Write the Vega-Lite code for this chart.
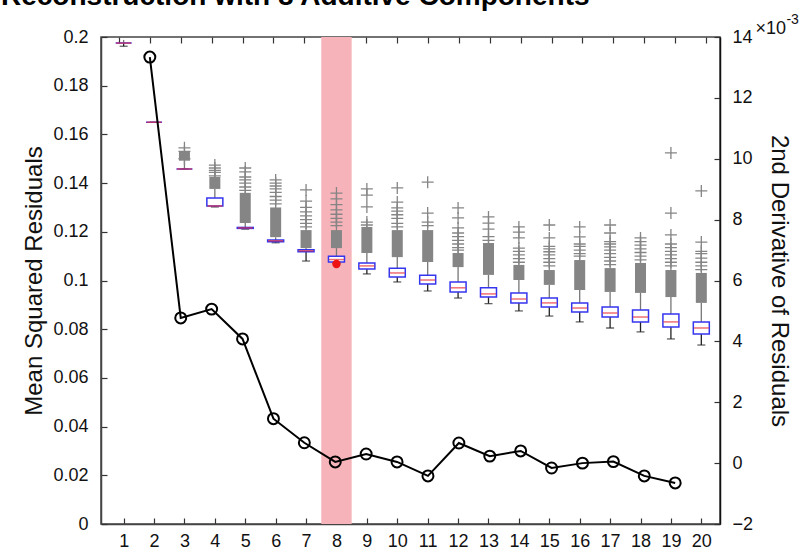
{
  "$schema": "https://vega.github.io/schema/vega-lite/v6.json",
  "width": 619,
  "height": 487,
  "autosize": {"type": "none"},
  "padding": {"left": 101, "top": 37, "right": 87, "bottom": 28},
  "background": "white",
  "config": {
    "font": "Liberation Sans",
    "view": {"stroke": "#444", "strokeWidth": 1.5},
    "axis": {
      "grid": false, "zindex": 1,
      "labelFont": "Liberation Sans", "labelFontSize": 18, "labelColor": "#111",
      "tickColor": "#333", "tickSize": -6, "tickWidth": 1.2,
      "domainColor": "#444", "domainWidth": 1.5,
      "titleFont": "Liberation Sans", "titleFontSize": 24, "titleFontWeight": "normal", "titleColor": "#111"
    }
  },
  "title": {
    "text": "Reconstruction with 8 Additive Components",
    "anchor": "start", "frame": "group", "dx": -100, "offset": 0, "dy": -2,
    "fontSize": 28, "fontWeight": "bold", "font": "Liberation Sans", "color": "#000"
  },
  "datasets": {
    "boxes": [
      {"x": 1, "q1": 0.1975, "q3": 0.1975, "med": 0.1975, "lo": 0.1962, "hi": 0.1988},
      {"x": 2, "q1": 0.165, "q3": 0.165, "med": 0.165, "lo": 0.165, "hi": 0.165},
      {"x": 3, "q1": 0.1458, "q3": 0.1458, "med": 0.1458, "lo": 0.1458, "hi": 0.1492},
      {"x": 4, "q1": 0.1306, "q3": 0.1339, "med": 0.1306, "lo": 0.1302, "hi": 0.1376},
      {"x": 5, "q1": 0.1214, "q3": 0.1218, "med": 0.1216, "lo": 0.1211, "hi": 0.1236},
      {"x": 6, "q1": 0.1159, "q3": 0.1166, "med": 0.1163, "lo": 0.1155, "hi": 0.1178},
      {"x": 7, "q1": 0.1118, "q3": 0.1126, "med": 0.1122, "lo": 0.108, "hi": 0.1133},
      {"x": 8, "q1": 0.1076, "q3": 0.11, "med": 0.1086, "lo": 0.107, "hi": 0.1133},
      {"x": 9, "q1": 0.1047, "q3": 0.1072, "med": 0.106, "lo": 0.1027, "hi": 0.1113},
      {"x": 10, "q1": 0.1014, "q3": 0.105, "med": 0.1031, "lo": 0.0994, "hi": 0.1096},
      {"x": 11, "q1": 0.0986, "q3": 0.1022, "med": 0.1002, "lo": 0.0957, "hi": 0.1076},
      {"x": 12, "q1": 0.0953, "q3": 0.0994, "med": 0.097, "lo": 0.0928, "hi": 0.1055},
      {"x": 13, "q1": 0.0932, "q3": 0.097, "med": 0.0945, "lo": 0.0905, "hi": 0.1023},
      {"x": 14, "q1": 0.0908, "q3": 0.0949, "med": 0.0924, "lo": 0.0875, "hi": 0.1002},
      {"x": 15, "q1": 0.0891, "q3": 0.0928, "med": 0.0908, "lo": 0.0854, "hi": 0.0982},
      {"x": 16, "q1": 0.0871, "q3": 0.0908, "med": 0.0887, "lo": 0.083, "hi": 0.0961},
      {"x": 17, "q1": 0.085, "q3": 0.0891, "med": 0.0867, "lo": 0.0805, "hi": 0.0953},
      {"x": 18, "q1": 0.083, "q3": 0.0879, "med": 0.085, "lo": 0.0789, "hi": 0.0949},
      {"x": 19, "q1": 0.0809, "q3": 0.0862, "med": 0.083, "lo": 0.076, "hi": 0.0932},
      {"x": 20, "q1": 0.078, "q3": 0.083, "med": 0.0805, "lo": 0.0735, "hi": 0.0908}
    ],
    "dense": [
      {"x": 3, "lo": 0.1492, "hi": 0.153},
      {"x": 4, "lo": 0.1376, "hi": 0.1425},
      {"x": 5, "lo": 0.1236, "hi": 0.136},
      {"x": 6, "lo": 0.1178, "hi": 0.13},
      {"x": 7, "lo": 0.1133, "hi": 0.1207},
      {"x": 8, "lo": 0.1133, "hi": 0.1207},
      {"x": 9, "lo": 0.1113, "hi": 0.122},
      {"x": 10, "lo": 0.1096, "hi": 0.1207},
      {"x": 11, "lo": 0.1076, "hi": 0.1207},
      {"x": 12, "lo": 0.1055, "hi": 0.1113},
      {"x": 13, "lo": 0.1023, "hi": 0.1154},
      {"x": 14, "lo": 0.1002, "hi": 0.1064},
      {"x": 15, "lo": 0.0982, "hi": 0.1043},
      {"x": 16, "lo": 0.0961, "hi": 0.1084},
      {"x": 17, "lo": 0.0953, "hi": 0.1051},
      {"x": 18, "lo": 0.0949, "hi": 0.1072},
      {"x": 19, "lo": 0.0932, "hi": 0.1043},
      {"x": 20, "lo": 0.0908, "hi": 0.1031}
    ],
    "outliers": [
      {"x": 3, "v": 0.1545}, {"x": 3, "v": 0.153}, {"x": 3, "v": 0.15},
      {"x": 4, "v": 0.1474}, {"x": 4, "v": 0.1462}, {"x": 4, "v": 0.1452}, {"x": 4, "v": 0.1444}, {"x": 4, "v": 0.143},
      {"x": 5, "v": 0.1462}, {"x": 5, "v": 0.1446}, {"x": 5, "v": 0.1425}, {"x": 5, "v": 0.1413}, {"x": 5, "v": 0.14}, {"x": 5, "v": 0.1384}, {"x": 5, "v": 0.137},
      {"x": 6, "v": 0.1413}, {"x": 6, "v": 0.14}, {"x": 6, "v": 0.1388}, {"x": 6, "v": 0.1376}, {"x": 6, "v": 0.1362}, {"x": 6, "v": 0.1345}, {"x": 6, "v": 0.133}, {"x": 6, "v": 0.1315},
      {"x": 7, "v": 0.1372}, {"x": 7, "v": 0.1326}, {"x": 7, "v": 0.13}, {"x": 7, "v": 0.1282}, {"x": 7, "v": 0.1265}, {"x": 7, "v": 0.125}, {"x": 7, "v": 0.1235}, {"x": 7, "v": 0.122},
      {"x": 8, "v": 0.1359}, {"x": 8, "v": 0.1335}, {"x": 8, "v": 0.1312}, {"x": 8, "v": 0.129}, {"x": 8, "v": 0.1272}, {"x": 8, "v": 0.1255}, {"x": 8, "v": 0.124}, {"x": 8, "v": 0.1225},
      {"x": 9, "v": 0.1376}, {"x": 9, "v": 0.1351}, {"x": 9, "v": 0.1302}, {"x": 9, "v": 0.124}, {"x": 9, "v": 0.1228},
      {"x": 10, "v": 0.138}, {"x": 10, "v": 0.1322}, {"x": 10, "v": 0.1298}, {"x": 10, "v": 0.1285}, {"x": 10, "v": 0.127}, {"x": 10, "v": 0.1255}, {"x": 10, "v": 0.1235}, {"x": 10, "v": 0.122},
      {"x": 11, "v": 0.1404}, {"x": 11, "v": 0.1277}, {"x": 11, "v": 0.124}, {"x": 11, "v": 0.1225},
      {"x": 12, "v": 0.1298}, {"x": 12, "v": 0.1257}, {"x": 12, "v": 0.1216}, {"x": 12, "v": 0.1195}, {"x": 12, "v": 0.118}, {"x": 12, "v": 0.1165}, {"x": 12, "v": 0.115}, {"x": 12, "v": 0.1135}, {"x": 12, "v": 0.1125},
      {"x": 13, "v": 0.1261}, {"x": 13, "v": 0.1236}, {"x": 13, "v": 0.1211}, {"x": 13, "v": 0.118}, {"x": 13, "v": 0.1165},
      {"x": 14, "v": 0.122}, {"x": 14, "v": 0.1199}, {"x": 14, "v": 0.1175}, {"x": 14, "v": 0.1133}, {"x": 14, "v": 0.112}, {"x": 14, "v": 0.1105}, {"x": 14, "v": 0.109}, {"x": 14, "v": 0.1075},
      {"x": 15, "v": 0.1228}, {"x": 15, "v": 0.1175}, {"x": 15, "v": 0.114}, {"x": 15, "v": 0.113}, {"x": 15, "v": 0.1118}, {"x": 15, "v": 0.1105}, {"x": 15, "v": 0.109}, {"x": 15, "v": 0.1075}, {"x": 15, "v": 0.106},
      {"x": 16, "v": 0.122}, {"x": 16, "v": 0.1179}, {"x": 16, "v": 0.115}, {"x": 16, "v": 0.114}, {"x": 16, "v": 0.1125}, {"x": 16, "v": 0.111}, {"x": 16, "v": 0.11},
      {"x": 17, "v": 0.1228}, {"x": 17, "v": 0.1195}, {"x": 17, "v": 0.116}, {"x": 17, "v": 0.115}, {"x": 17, "v": 0.1138}, {"x": 17, "v": 0.1125}, {"x": 17, "v": 0.111}, {"x": 17, "v": 0.1095}, {"x": 17, "v": 0.108}, {"x": 17, "v": 0.1065},
      {"x": 18, "v": 0.1175}, {"x": 18, "v": 0.116}, {"x": 18, "v": 0.1145}, {"x": 18, "v": 0.113}, {"x": 18, "v": 0.1115}, {"x": 18, "v": 0.11}, {"x": 18, "v": 0.1085},
      {"x": 19, "v": 0.1524}, {"x": 19, "v": 0.1277}, {"x": 19, "v": 0.1187}, {"x": 19, "v": 0.115}, {"x": 19, "v": 0.1135}, {"x": 19, "v": 0.112}, {"x": 19, "v": 0.1105}, {"x": 19, "v": 0.109}, {"x": 19, "v": 0.1075}, {"x": 19, "v": 0.106},
      {"x": 20, "v": 0.1368}, {"x": 20, "v": 0.1158}, {"x": 20, "v": 0.112}, {"x": 20, "v": 0.111}, {"x": 20, "v": 0.1092}, {"x": 20, "v": 0.1075}, {"x": 20, "v": 0.106}, {"x": 20, "v": 0.1045}
    ],
    "deriv": [
      {"x": 2, "d": 13.34}, {"x": 3, "d": 4.77}, {"x": 4, "d": 5.06}, {"x": 5, "d": 4.08},
      {"x": 6, "d": 1.46}, {"x": 7, "d": 0.67}, {"x": 8, "d": 0.04}, {"x": 9, "d": 0.3},
      {"x": 10, "d": 0.04}, {"x": 11, "d": -0.42}, {"x": 12, "d": 0.66}, {"x": 13, "d": 0.23},
      {"x": 14, "d": 0.4}, {"x": 15, "d": -0.16}, {"x": 16, "d": 0.0}, {"x": 17, "d": 0.05},
      {"x": 18, "d": -0.42}, {"x": 19, "d": -0.65}
    ]
  },
  "layer": [
    {
      "encoding": {
        "x": {
          "field": "x", "type": "quantitative",
          "scale": {"domain": [0.42, 20.45], "nice": false, "zero": false},
          "axis": {"orient": "bottom", "values": [1,2,3,4,5,6,7,8,9,10,11,12,13,14,15,16,17,18,19,20], "format": "d", "title": null, "labelPadding": 14, "labelFlush": false}
        }
      },
      "layer": [
        {
          "data": {"values": [{"x": 7.5, "x2": 8.5}]},
          "mark": {"type": "rect", "color": "#f6b3b9", "opacity": 1},
          "encoding": {"x2": {"field": "x2"}}
        },
        {
          "data": {"name": "boxes"},
          "mark": {"type": "rule", "color": "#222", "strokeWidth": 1.3},
          "encoding": {
            "y": {"field": "lo", "type": "quantitative",
              "scale": {"domain": [0, 0.2], "nice": false},
              "axis": {"orient": "left", "values": [0,0.02,0.04,0.06,0.08,0.1,0.12,0.14,0.16,0.18,0.2], "format": ".2~f", "labelPadding": 19, "title": "Mean Squared Residuals", "titlePadding": 6}},
            "y2": {"field": "q1"}
          }
        },
        {
          "data": {"name": "boxes"},
          "mark": {"type": "rule", "color": "#777", "strokeWidth": 1.3},
          "encoding": {"y": {"field": "q3", "type": "quantitative"}, "y2": {"field": "hi"}}
        },
        {
          "data": {"name": "boxes"},
          "mark": {"type": "tick", "orient": "horizontal", "color": "#222", "size": 8, "thickness": 1.3},
          "encoding": {"y": {"field": "lo", "type": "quantitative"}}
        },
        {
          "data": {"name": "dense"},
          "mark": {"type": "rule", "color": "#858585", "strokeWidth": 11, "strokeCap": "butt"},
          "encoding": {"y": {"field": "lo", "type": "quantitative"}, "y2": {"field": "hi"}}
        },
        {
          "data": {"name": "outliers"},
          "mark": {"type": "point", "shape": "M-1,0H1M0,-1V1", "filled": false, "stroke": "#858585", "strokeWidth": 1.3, "size": 144, "opacity": 1},
          "encoding": {"y": {"field": "v", "type": "quantitative"}}
        },
        {
          "data": {"name": "boxes"},
          "mark": {"type": "bar", "size": 16, "fill": "white", "stroke": "#3535ee", "strokeWidth": 1.5},
          "encoding": {"y": {"field": "q1", "type": "quantitative"}, "y2": {"field": "q3"}}
        },
        {
          "data": {"name": "boxes"},
          "mark": {"type": "tick", "orient": "horizontal", "color": "#e8303a", "size": 15, "thickness": 1.5},
          "encoding": {"y": {"field": "med", "type": "quantitative"}}
        },
        {
          "data": {"values": [{"x": 8, "v": 0.1068}]},
          "mark": {"type": "point", "filled": true, "color": "#ee1111", "size": 70, "opacity": 1},
          "encoding": {"y": {"field": "v", "type": "quantitative"}}
        }
      ]
    },
    {
      "encoding": {
        "x": {
          "field": "x", "type": "quantitative",
          "scale": {"domain": [0.42, 20.45], "nice": false, "zero": false},
          "axis": {"orient": "top", "values": [1,2,3,4,5,6,7,8,9,10,11,12,13,14,15,16,17,18,19,20], "labels": false, "title": null, "domain": false}
        }
      },
      "layer": [
        {
          "data": {"name": "deriv"},
          "mark": {"type": "line", "color": "#000", "strokeWidth": 2},
          "encoding": {
            "y": {"field": "d", "type": "quantitative",
              "scale": {"domain": [-2, 14], "nice": false, "zero": false},
              "axis": {"orient": "right", "values": [-2,0,2,4,6,8,10,12,14], "format": "d", "labelPadding": 18, "title": "2nd Derivative of Residuals", "titlePadding": 14, "domainColor": "#111"}}
          }
        },
        {
          "data": {"name": "deriv"},
          "mark": {"type": "point", "shape": "circle", "filled": false, "stroke": "#000", "strokeWidth": 2, "size": 120, "opacity": 1},
          "encoding": {"y": {"field": "d", "type": "quantitative"}}
        },
        {
          "data": {"values": [{"x": 21.6, "d": 14.1, "t": "×10"}]},
          "mark": {"type": "text", "align": "left", "baseline": "alphabetic", "fontSize": 18, "color": "#111"},
          "encoding": {"y": {"field": "d", "type": "quantitative"}, "text": {"field": "t"}}
        },
        {
          "data": {"values": [{"x": 22.6, "d": 14.43, "t": "-3"}]},
          "mark": {"type": "text", "align": "left", "baseline": "alphabetic", "fontSize": 14, "color": "#111"},
          "encoding": {"y": {"field": "d", "type": "quantitative"}, "text": {"field": "t"}}
        }
      ]
    }
  ],
  "resolve": {"scale": {"x": "independent", "y": "independent"}}
}
